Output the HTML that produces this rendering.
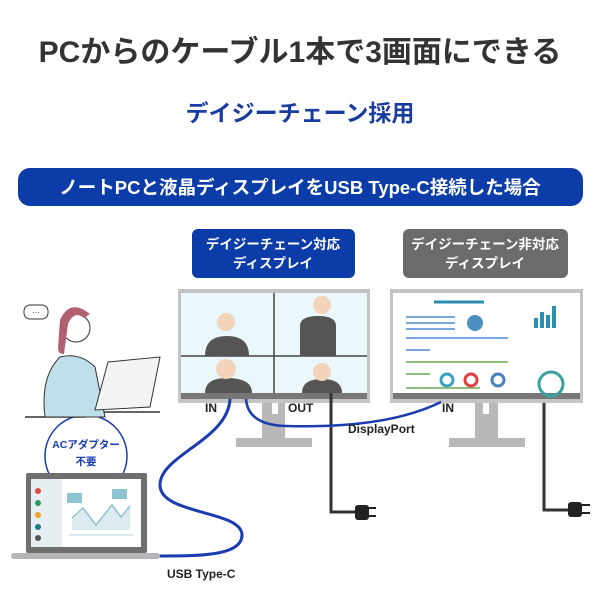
<!DOCTYPE html>
<html><head><meta charset="utf-8"><style>
body{margin:0;width:600px;height:600px;background:#fff;overflow:hidden}
svg{display:block}
text{font-family:"Liberation Sans","Noto Sans CJK JP",sans-serif}
</style></head><body>
<svg width="600" height="600" viewBox="0 0 600 600">
<text x="300" y="62" text-anchor="middle" font-size="30" font-weight="bold" fill="#333">PCからのケーブル1本で3画面にできる</text>
<text x="300" y="121" text-anchor="middle" font-size="23" font-weight="bold" fill="#1a3c9e">デイジーチェーン採用</text>
<rect x="18" y="168" width="565" height="38" rx="12" fill="#0b3ca8"/>
<text x="300" y="194" text-anchor="middle" font-size="18.5" font-weight="bold" fill="#fff">ノートPCと液晶ディスプレイをUSB Type-C接続した場合</text>
<rect x="192" y="229" width="163" height="49" rx="6" fill="#0b3ca8"/>
<text x="273" y="249" text-anchor="middle" font-size="13.5" font-weight="bold" fill="#fff">デイジーチェーン対応</text>
<text x="273" y="268" text-anchor="middle" font-size="13.5" font-weight="bold" fill="#fff">ディスプレイ</text>
<rect x="403" y="229" width="165" height="49" rx="6" fill="#6b6b6b"/>
<text x="485" y="249" text-anchor="middle" font-size="13.5" font-weight="bold" fill="#fff">デイジーチェーン非対応</text>
<text x="485" y="268" text-anchor="middle" font-size="13.5" font-weight="bold" fill="#fff">ディスプレイ</text>
<!-- monitor 1 -->
<rect x="262" y="393" width="23" height="50" fill="#b8b8b8"/><rect x="236" y="438" width="76" height="9" fill="#b8b8b8"/>
<rect x="272" y="400" width="6" height="14" fill="#fff"/>
<rect x="178" y="289" width="192" height="114" fill="#c4c4c4"/>
<rect x="181" y="293" width="186" height="100" fill="#eaf7fb"/>
<rect x="181" y="393" width="186" height="6" fill="#777"/>
<line x1="274" y1="293" x2="274" y2="393" stroke="#444" stroke-width="1.5"/>
<line x1="181" y1="356" x2="367" y2="356" stroke="#444" stroke-width="1.5"/>
<g fill="#555"><path d="M205 356 q0-20 22-20 q22 0 22 20z"/><circle cx="226" cy="322" r="9" fill="#f3d4bb"/><path d="M300 356 v-30 q0-10 18-10 q18 0 18 10 v30z"/><circle cx="322" cy="305" r="9" fill="#f3d4bb"/><path d="M205 393 q0-15 22-15 q25 0 25 15z"/><circle cx="226" cy="369" r="10" fill="#f3d4bb"/><path d="M302 393 q0-14 20-14 q20 0 20 14z"/><circle cx="322" cy="372" r="9" fill="#f3d4bb"/></g>
<!-- monitor 2 -->
<rect x="475" y="393" width="23" height="50" fill="#b8b8b8"/><rect x="449" y="438" width="76" height="9" fill="#b8b8b8"/>
<rect x="483" y="400" width="6" height="14" fill="#fff"/>
<rect x="390" y="289" width="193" height="114" fill="#c4c4c4"/>
<rect x="393" y="293" width="187" height="100" fill="#fff"/>
<rect x="393" y="393" width="187" height="6" fill="#777"/>
<g stroke="#7aa6e0" stroke-width="2"><line x1="406" y1="317" x2="455" y2="317"/><line x1="406" y1="323" x2="455" y2="323"/><line x1="406" y1="329" x2="455" y2="329"/><line x1="406" y1="338" x2="508" y2="338"/><line x1="406" y1="350" x2="430" y2="350"/></g>
<line x1="434" y1="302" x2="484" y2="302" stroke="#2b8fb0" stroke-width="3"/>
<g stroke="#8dc07a" stroke-width="2"><line x1="406" y1="362" x2="508" y2="362"/><line x1="406" y1="374" x2="430" y2="374"/><line x1="406" y1="388" x2="480" y2="388"/></g>
<circle cx="475" cy="323" r="8" fill="#4a90c0"/><circle cx="447" cy="380" r="6" fill="none" stroke="#3aa0c0" stroke-width="3"/><circle cx="471" cy="380" r="6" fill="none" stroke="#e04040" stroke-width="3"/><circle cx="498" cy="380" r="6" fill="none" stroke="#4a80c0" stroke-width="3"/>
<g fill="#2b8fb0"><rect x="534" y="318" width="4" height="10"/><rect x="540" y="312" width="4" height="16"/><rect x="546" y="315" width="4" height="13"/><rect x="552" y="306" width="4" height="22"/></g>
<circle cx="551" cy="384" r="12" fill="none" stroke="#3aa0a0" stroke-width="3"/>
<!-- cables -->
<path d="M331 393 V512 H355" stroke="#333" stroke-width="3" fill="none"/>
<rect x="355" y="505" width="14" height="15" rx="3" fill="#222"/><line x1="369" y1="508" x2="376" y2="508" stroke="#222" stroke-width="2"/><line x1="369" y1="516" x2="376" y2="516" stroke="#222" stroke-width="2"/>
<path d="M544 403 V510 H568" stroke="#333" stroke-width="3" fill="none"/>
<rect x="568" y="502" width="14" height="15" rx="3" fill="#222"/><line x1="582" y1="505" x2="590" y2="505" stroke="#222" stroke-width="2"/><line x1="582" y1="513" x2="590" y2="513" stroke="#222" stroke-width="2"/>
<path d="M246 399 q2 26 40 27 q100 3 155 -24" stroke="#1a3cb0" stroke-width="2.5" fill="none"/>
<path d="M230 399 C228 440 160 455 160 485 C160 515 242 510 242 535 C242 556 200 556 158 556" stroke="#1a3cb0" stroke-width="3" fill="none"/>
<text x="205" y="412" font-size="12" font-weight="bold" fill="#222">IN</text>
<text x="288" y="412" font-size="12" font-weight="bold" fill="#222">OUT</text>
<text x="442" y="412" font-size="12" font-weight="bold" fill="#222">IN</text>
<text x="348" y="433" font-size="12" font-weight="bold" fill="#222">DisplayPort</text>
<text x="167" y="578" font-size="12" font-weight="bold" fill="#222">USB Type-C</text>
<!-- AC circle -->
<circle cx="86" cy="456" r="41" fill="#fff" stroke="#1a3cb0" stroke-width="1.5"/>
<text x="86" y="448" text-anchor="middle" font-size="10.5" font-weight="bold" fill="#1a3cb0">ACアダプター</text>
<text x="86" y="465" text-anchor="middle" font-size="10.5" font-weight="bold" fill="#1a3cb0">不要</text>
<!-- laptop -->
<rect x="26" y="473" width="121" height="80" rx="2" fill="#6f6f6f"/>
<rect x="31" y="479" width="110" height="68" fill="#fff"/>
<rect x="31" y="479" width="31" height="68" fill="#e6eef2"/>
<g><circle cx="38" cy="491" r="3" fill="#e04a3a"/><circle cx="38" cy="503" r="3" fill="#2a9a5a"/><circle cx="38" cy="515" r="3" fill="#f0a020"/><circle cx="38" cy="527" r="3" fill="#1a7a8a"/><circle cx="38" cy="538" r="3" fill="#555"/></g>
<path d="M72 518 L83 508 L96 525 L112 505 L121 517 L130 506 V530 H72z" fill="#dcebf0"/>
<path d="M72 518 L83 508 L96 525 L112 505 L121 517 L130 506" stroke="#8cc4d4" stroke-width="1.5" fill="none"/>
<rect x="67" y="493" width="15" height="10" fill="#8cc4d4"/><rect x="112" y="489" width="15" height="10" fill="#8cc4d4"/>
<line x1="69" y1="535" x2="133" y2="535" stroke="#cfe0e8" stroke-width="1.5"/>
<rect x="11" y="553" width="149" height="6" rx="3" fill="#b5b5b5"/>
<!-- person -->
<path d="M25 417 h60 l15 -5 h60" stroke="#333" stroke-width="1.5" fill="none"/>
<path d="M45 417 q-5-40 15-60 q20-5 35 10 l10 50z" fill="#bfe0ea" stroke="#333"/>
<circle cx="76" cy="328" r="14" fill="#fff" stroke="#333"/>
<path d="M60 320 q10-22 30-6 l-6 4 q-10-8-16 6 l-4 30 q-6 0 -6-6z" fill="#b06070"/>
<path d="M108 362 l52 -5 l-10 50 l-55 3z" fill="#f3f3f3" stroke="#333"/>
<rect x="24" y="305" width="24" height="14" rx="6" fill="#fff" stroke="#333"/>
<text x="36" y="315" text-anchor="middle" font-size="8" fill="#333">···</text>
</svg>
</body></html>
